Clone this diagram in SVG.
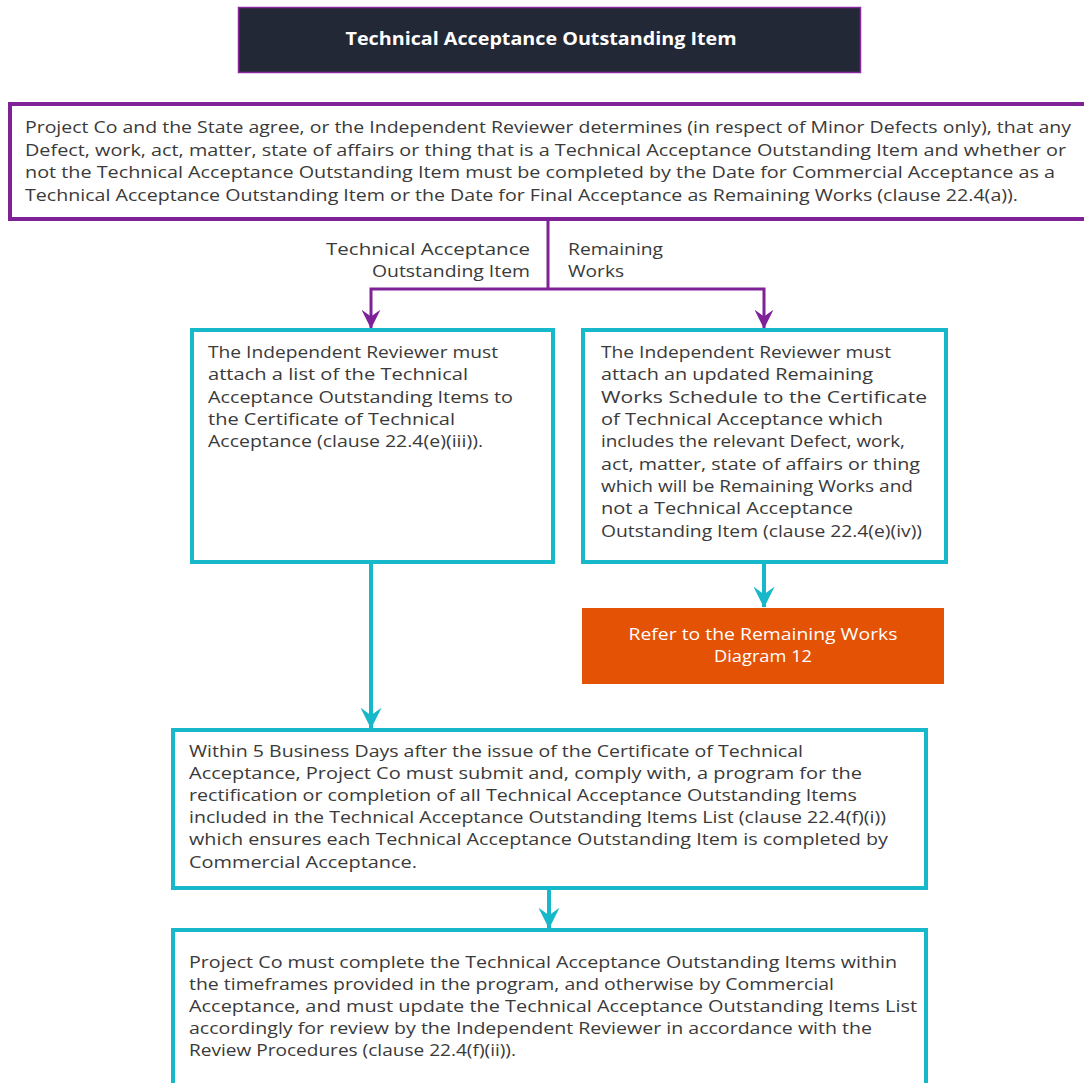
<svg xmlns="http://www.w3.org/2000/svg" width="1084" height="1083" viewBox="0 0 1084 1083">
<defs>
<style>
text{font-family:"Open Sans","Liberation Sans",sans-serif;font-size:17px;fill:#3a3a3a}
.t{fill:#ffffff;font-weight:bold;font-size:18px}
.w{fill:#ffffff;font-size:17px}
.pb{fill:#ffffff;stroke:#7f2298;stroke-width:4}
.tb{fill:#ffffff;stroke:#17b8c9;stroke-width:4}
.pc{fill:none;stroke:#7f2298;stroke-width:3}
.tc{fill:none;stroke:#17b8c9;stroke-width:4}
</style>
<marker id="ap" viewBox="0 0 14 14" refX="13.5" refY="7" markerWidth="19" markerHeight="19" markerUnits="userSpaceOnUse" orient="auto">
<path d="M0,0 L14,7 L0,14 L5,7 z" fill="#7f2298"/>
</marker>
<marker id="at" viewBox="0 0 14 14" refX="13.5" refY="7" markerWidth="21" markerHeight="21" markerUnits="userSpaceOnUse" orient="auto">
<path d="M0,0 L14,7 L0,14 L5,7 z" fill="#17b8c9"/>
</marker>
</defs>
<rect width="1084" height="1083" fill="#ffffff"/>

<g id="title">
<rect x="238.5" y="7.5" width="622" height="65" fill="#232836" stroke="#8a2aa0" stroke-width="1.5"/>
<text class="t" x="541" y="45" text-anchor="middle" textLength="391" lengthAdjust="spacingAndGlyphs">Technical Acceptance Outstanding Item</text>
</g>

<g id="connectors">
<path class="pc" d="M548,220 V289"/>
<path class="pc" d="M548,289 H371 V328" marker-end="url(#ap)"/>
<path class="pc" d="M548,289 H764 V328" marker-end="url(#ap)"/>
<path class="tc" d="M371,562 V728" marker-end="url(#at)"/>
<path class="tc" d="M764,562 V607" marker-end="url(#at)"/>
<path class="tc" d="M549,888 V928" marker-end="url(#at)"/>
</g>

<g id="labels">
<text x="530" y="255" text-anchor="end" textLength="204" lengthAdjust="spacingAndGlyphs">Technical Acceptance</text>
<text x="530" y="277" text-anchor="end" textLength="158" lengthAdjust="spacingAndGlyphs">Outstanding Item</text>
<text x="568" y="255" textLength="95" lengthAdjust="spacingAndGlyphs">Remaining</text>
<text x="568" y="277" textLength="56" lengthAdjust="spacingAndGlyphs">Works</text>
</g>

<g id="agree">
<rect class="pb" x="10" y="104" width="1090" height="115"/>
<text x="25" y="133" textLength="1046" lengthAdjust="spacingAndGlyphs">Project Co and the State agree, or the Independent Reviewer determines (in respect of Minor Defects only), that any</text>
<text x="25" y="156" textLength="1041" lengthAdjust="spacingAndGlyphs">Defect, work, act, matter, state of affairs or thing that is a Technical Acceptance Outstanding Item and whether or</text>
<text x="25" y="178" textLength="1030" lengthAdjust="spacingAndGlyphs">not the Technical Acceptance Outstanding Item must be completed by the Date for Commercial Acceptance as a</text>
<text x="25" y="201" textLength="993" lengthAdjust="spacingAndGlyphs">Technical Acceptance Outstanding Item or the Date for Final Acceptance as Remaining Works (clause 22.4(a)).</text>
</g>

<g id="attach-list">
<rect class="tb" x="192" y="330" width="361" height="232"/>
<text x="208" y="358" textLength="290" lengthAdjust="spacingAndGlyphs">The Independent Reviewer must</text>
<text x="208" y="380" textLength="260" lengthAdjust="spacingAndGlyphs">attach a list of the Technical</text>
<text x="208" y="403" textLength="305" lengthAdjust="spacingAndGlyphs">Acceptance Outstanding Items to</text>
<text x="208" y="425" textLength="247" lengthAdjust="spacingAndGlyphs">the Certificate of Technical</text>
<text x="208" y="447" textLength="275" lengthAdjust="spacingAndGlyphs">Acceptance (clause 22.4(e)(iii)).</text>
</g>

<g id="attach-schedule">
<rect class="tb" x="583" y="330" width="363" height="232"/>
<text x="601" y="358" textLength="290" lengthAdjust="spacingAndGlyphs">The Independent Reviewer must</text>
<text x="601" y="380" textLength="272" lengthAdjust="spacingAndGlyphs">attach an updated Remaining</text>
<text x="601" y="403" textLength="326" lengthAdjust="spacingAndGlyphs">Works Schedule to the Certificate</text>
<text x="601" y="425" textLength="282" lengthAdjust="spacingAndGlyphs">of Technical Acceptance which</text>
<text x="601" y="447" textLength="304" lengthAdjust="spacingAndGlyphs">includes the relevant Defect, work,</text>
<text x="601" y="470" textLength="319" lengthAdjust="spacingAndGlyphs">act, matter, state of affairs or thing</text>
<text x="601" y="492" textLength="312" lengthAdjust="spacingAndGlyphs">which will be Remaining Works and</text>
<text x="601" y="514" textLength="252" lengthAdjust="spacingAndGlyphs">not a Technical Acceptance</text>
<text x="601" y="537" textLength="321" lengthAdjust="spacingAndGlyphs">Outstanding Item (clause 22.4(e)(iv))</text>
</g>

<g id="refer">
<rect x="582" y="608" width="362" height="76" fill="#e35205"/>
<text class="w" x="763" y="640" text-anchor="middle" textLength="269" lengthAdjust="spacingAndGlyphs">Refer to the Remaining Works</text>
<text class="w" x="763" y="662" text-anchor="middle" textLength="98" lengthAdjust="spacingAndGlyphs">Diagram 12</text>
</g>

<g id="program">
<rect class="tb" x="173" y="730" width="753" height="158"/>
<text x="189" y="757" textLength="614" lengthAdjust="spacingAndGlyphs">Within 5 Business Days after the issue of the Certificate of Technical</text>
<text x="189" y="779" textLength="673" lengthAdjust="spacingAndGlyphs">Acceptance, Project Co must submit and, comply with, a program for the</text>
<text x="189" y="801" textLength="668" lengthAdjust="spacingAndGlyphs">rectification or completion of all Technical Acceptance Outstanding Items</text>
<text x="189" y="823" textLength="697" lengthAdjust="spacingAndGlyphs">included in the Technical Acceptance Outstanding Items List (clause 22.4(f)(i))</text>
<text x="189" y="845" textLength="699" lengthAdjust="spacingAndGlyphs">which ensures each Technical Acceptance Outstanding Item is completed by</text>
<text x="189" y="868" textLength="228" lengthAdjust="spacingAndGlyphs">Commercial Acceptance.</text>
</g>

<g id="complete">
<rect class="tb" x="173" y="930" width="753" height="200"/>
<text x="189" y="968" textLength="708" lengthAdjust="spacingAndGlyphs">Project Co must complete the Technical Acceptance Outstanding Items within</text>
<text x="189" y="990" textLength="645" lengthAdjust="spacingAndGlyphs">the timeframes provided in the program, and otherwise by Commercial</text>
<text x="189" y="1012" textLength="728" lengthAdjust="spacingAndGlyphs">Acceptance, and must update the Technical Acceptance Outstanding Items List</text>
<text x="189" y="1034" textLength="683" lengthAdjust="spacingAndGlyphs">accordingly for review by the Independent Reviewer in accordance with the</text>
<text x="189" y="1056" textLength="327" lengthAdjust="spacingAndGlyphs">Review Procedures (clause 22.4(f)(ii)).</text>
</g>
</svg>
